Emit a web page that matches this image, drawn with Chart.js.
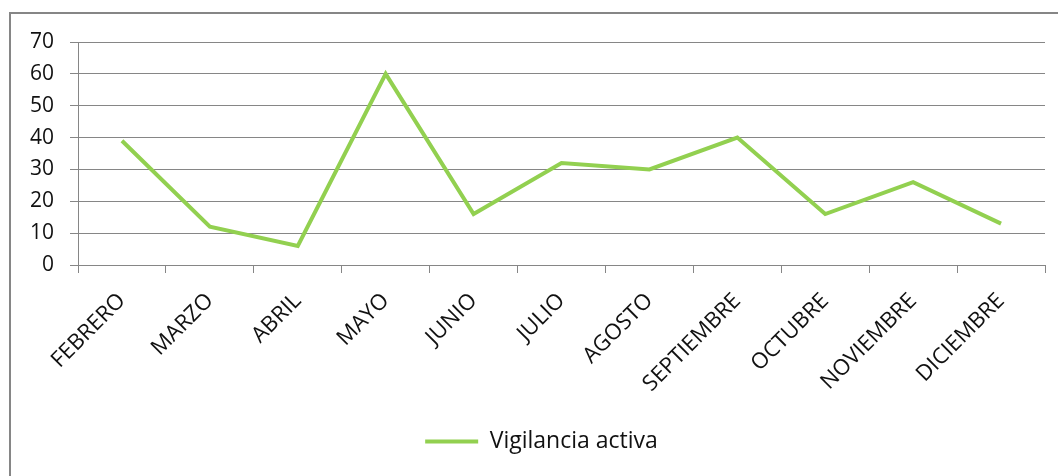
<!DOCTYPE html>
<html>
<head>
<meta charset="utf-8">
<script src="https://cdn.jsdelivr.net/npm/chart.js@4/dist/chart.umd.min.js"></script>
<style>
    html, body { margin: 0; padding: 0; background: #fff; overflow: hidden; }
    #wrap { position: relative; width: 1058px; height: 476px; }
    #frame { position: absolute; left: 9px; top: 12px; width: 1100px; height: 500px; border: 2px solid #868686; box-sizing: border-box; }
    #chart { position: absolute; left: 0; top: 0; }
</style>
</head>
<body>
<div id="wrap">
    <div id="frame"></div>
    <canvas id="chart" width="1058" height="476"></canvas>
</div>
<script>
// meses y valores
const months = ['FEBRERO', 'MARZO', 'ABRIL', 'MAYO', 'JUNIO', 'JULIO', 'AGOSTO', 'SEPTIEMBRE', 'OCTUBRE', 'NOVIEMBRE', 'DICIEMBRE'];
const vigilanciaActiva = [39, 12, 6, 60, 16, 32, 30, 40, 16, 26, 13];
const seriesName = 'Vigilancia activa';

const axisColor = '#868686';
const textColor = '#111';
const lineColor = 'rgb(146, 208, 80)';
const fontFamily = '"Open Sans", "Noto Sans", sans-serif';

// mueve la leyenda un poco a la derecha, como en el original
const legendShift = {
    id: 'legendShift',
    afterLayout(chart) {
        if (chart.legend) {
            chart.legend.left += 19;
            chart.legend.right += 19;
        }
    }
};

const ctx = document.getElementById('chart').getContext('2d');

new Chart(ctx, {
    type: 'line',
    data: {
        labels: months,
        datasets: [{
            label: seriesName,
            data: vigilanciaActiva,
            borderColor: lineColor,
            backgroundColor: lineColor,
            borderWidth: 4,
            pointRadius: 0,
            pointStyle: 'line',
            tension: 0,
            fill: false
        }]
    },
    options: {
        responsive: false,
        animation: false,
        layout: {
            padding: { top: 42, right: 13, bottom: 13, left: 0 }
        },
        scales: {
            x: {
                offset: true,
                grid: {
                    offset: true,
                    drawOnChartArea: false,
                    drawTicks: true,
                    tickLength: 8,
                    color: axisColor
                },
                border: { color: axisColor },
                ticks: {
                    color: textColor,
                    font: { family: fontFamily, size: 22 },
                    maxRotation: 45,
                    minRotation: 45,
                    padding: 15,
                    autoSkip: false
                },
                afterFit: (scale) => { scale.height = 155; }
            },
            y: {
                min: 0,
                max: 70,
                grid: {
                    color: axisColor,
                    tickLength: 8
                },
                border: { color: axisColor },
                ticks: {
                    stepSize: 10,
                    color: textColor,
                    font: { family: fontFamily, size: 21 },
                    padding: 16
                },
                afterFit: (scale) => { scale.width = 78; }
            }
        },
        plugins: {
            legend: {
                position: 'bottom',
                labels: {
                    usePointStyle: true,
                    pointStyle: 'line',
                    pointStyleWidth: 53,
                    color: textColor,
                    font: { family: fontFamily, size: 23 },
                    padding: 10
                }
            },
            tooltip: { enabled: false }
        }
    },
    plugins: [legendShift]
});
</script>
</body>
</html>
